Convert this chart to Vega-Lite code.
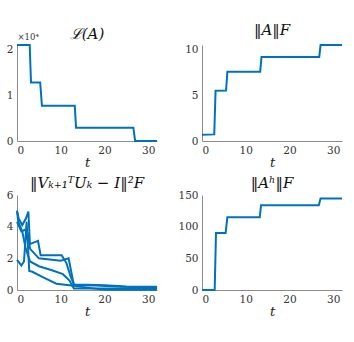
{
  "$schema": "https://vega.github.io/schema/vega-lite/v6.json",
  "background": "white",
  "padding": {"left": 6, "top": 23, "right": 10, "bottom": 5},
  "config": {
    "view": {"stroke": null},
    "font": "DejaVu Serif",
    "axis": {
      "domainColor": "#8c8c8c",
      "domainWidth": 1,
      "ticks": false,
      "grid": false,
      "labelFont": "DejaVu Serif",
      "labelFontSize": 10.5,
      "labelColor": "#333333",
      "labelPadding": 4,
      "format": "d",
      "titleFont": "DejaVu Serif",
      "titleFontSize": 13,
      "titleFontStyle": "italic",
      "titleFontWeight": "normal",
      "titleColor": "#222222",
      "titlePadding": 1
    },
    "title": {"font": "DejaVu Serif", "fontSize": 15, "fontWeight": "normal", "fontStyle": "italic", "color": "#111111", "offset": 3},
    "line": {"color": "#0072BD", "strokeWidth": 2}
  },
  "columns": 2,
  "bounds": "flush",
  "spacing": {"column": 45, "row": 54},
  "concat": [
    {
      "title": {"text": "ℒ(A)", "offset": -10},
      "width": 140, "height": 96,
      "data": {"values": [
        {"t": 0, "v": 2.1}, {"t": 2.9, "v": 2.1}, {"t": 3.2, "v": 1.28}, {"t": 5.3, "v": 1.28},
        {"t": 5.7, "v": 0.77}, {"t": 13.2, "v": 0.77}, {"t": 13.5, "v": 0.29}, {"t": 26.6, "v": 0.29},
        {"t": 27.0, "v": 0}, {"t": 32, "v": 0}
      ]},
      "mark": {"type": "line"},
      "encoding": {
        "x": {"field": "t", "type": "quantitative", "scale": {"domain": [0, 32], "nice": false}, "axis": {"values": [0, 10, 20, 30], "title": "t"}},
        "y": {"field": "v", "type": "quantitative", "scale": {"domain": [0, 2.1], "nice": false}, "axis": {"values": [0, 1, 2], "title": "×10⁴", "titleAngle": 0, "titleFontStyle": "normal", "titleFontSize": 8.5, "titleX": 0, "titleY": -4, "titleAlign": "left", "titleBaseline": "bottom", "titleColor": "#333333"}}
      }
    },
    {
      "title": "‖A‖F",
      "width": 140, "height": 96,
      "data": {"values": [
        {"t": 0, "v": 0.68}, {"t": 2.8, "v": 0.72}, {"t": 3.1, "v": 5.47}, {"t": 5.5, "v": 5.5},
        {"t": 5.8, "v": 7.55}, {"t": 13.3, "v": 7.55}, {"t": 13.6, "v": 9.15}, {"t": 26.8, "v": 9.15},
        {"t": 27.1, "v": 10.45}, {"t": 32, "v": 10.45}
      ]},
      "mark": {"type": "line"},
      "encoding": {
        "x": {"field": "t", "type": "quantitative", "scale": {"domain": [0, 32], "nice": false}, "axis": {"values": [0, 10, 20, 30], "title": "t"}},
        "y": {"field": "v", "type": "quantitative", "scale": {"domain": [0, 10.45], "nice": false}, "axis": {"values": [0, 5, 10], "title": null}}
      }
    },
    {
      "title": {"text": "‖Vₖ₊₁ᵀUₖ − I‖²F", "offset": -1},
      "width": 140, "height": 95,
      "data": {"values": [
        {"s": 1, "t": 0, "v": 5.0}, {"s": 1, "t": 0.4, "v": 4.5}, {"s": 1, "t": 1.2, "v": 4.1}, {"s": 1, "t": 2.0, "v": 4.5},
        {"s": 1, "t": 2.6, "v": 4.95}, {"s": 1, "t": 2.95, "v": 2.9}, {"s": 1, "t": 4.8, "v": 3.1}, {"s": 1, "t": 5.4, "v": 2.2},
        {"s": 1, "t": 10.2, "v": 2.2}, {"s": 1, "t": 11.3, "v": 1.7}, {"s": 1, "t": 12.2, "v": 0.9}, {"s": 1, "t": 13, "v": 0.35},
        {"s": 1, "t": 16, "v": 0.33}, {"s": 1, "t": 20, "v": 0.3}, {"s": 1, "t": 25, "v": 0.22}, {"s": 1, "t": 32, "v": 0.2},
        {"s": 2, "t": 0, "v": 4.3}, {"s": 2, "t": 1, "v": 3.7}, {"s": 2, "t": 1.8, "v": 3.8}, {"s": 2, "t": 2.4, "v": 3.6},
        {"s": 2, "t": 3, "v": 2.6}, {"s": 2, "t": 5, "v": 2.0}, {"s": 2, "t": 10, "v": 1.85}, {"s": 2, "t": 11.8, "v": 2.0},
        {"s": 2, "t": 13, "v": 0.3}, {"s": 2, "t": 18, "v": 0.28}, {"s": 2, "t": 24, "v": 0.2}, {"s": 2, "t": 32, "v": 0.15},
        {"s": 3, "t": 0, "v": 1.9}, {"s": 3, "t": 1, "v": 1.55}, {"s": 3, "t": 1.6, "v": 1.8}, {"s": 3, "t": 2.2, "v": 4.3},
        {"s": 3, "t": 2.5, "v": 2.8}, {"s": 3, "t": 2.8, "v": 1.2}, {"s": 3, "t": 3.5, "v": 1.15}, {"s": 3, "t": 6, "v": 0.8},
        {"s": 3, "t": 9, "v": 0.4}, {"s": 3, "t": 12, "v": 0.3}, {"s": 3, "t": 16, "v": 0.15}, {"s": 3, "t": 20, "v": 0.02},
        {"s": 3, "t": 32, "v": 0.02},
        {"s": 4, "t": 0, "v": 5.0}, {"s": 4, "t": 0.3, "v": 4.3}, {"s": 4, "t": 1.2, "v": 3.7}, {"s": 4, "t": 2.0, "v": 2.6},
        {"s": 4, "t": 3, "v": 1.8}, {"s": 4, "t": 5, "v": 1.5}, {"s": 4, "t": 8, "v": 1.25}, {"s": 4, "t": 10.5, "v": 1.0},
        {"s": 4, "t": 12, "v": 0.6}, {"s": 4, "t": 13, "v": 0.1}, {"s": 4, "t": 20, "v": 0.1}, {"s": 4, "t": 32, "v": 0.08}
      ]},
      "mark": {"type": "line"},
      "encoding": {
        "detail": {"field": "s", "type": "nominal"},
        "x": {"field": "t", "type": "quantitative", "scale": {"domain": [0, 32], "nice": false}, "axis": {"values": [0, 10, 20, 30], "title": "t"}},
        "y": {"field": "v", "type": "quantitative", "scale": {"domain": [0, 6], "nice": false}, "axis": {"values": [0, 2, 4, 6], "title": null}}
      }
    },
    {
      "title": {"text": "‖Aʰ‖F", "offset": -1},
      "width": 140, "height": 95,
      "data": {"values": [
        {"t": 0, "v": 0}, {"t": 2.9, "v": 0}, {"t": 3.2, "v": 90}, {"t": 5.4, "v": 90},
        {"t": 5.8, "v": 115}, {"t": 13.2, "v": 115}, {"t": 13.5, "v": 134}, {"t": 26.7, "v": 134},
        {"t": 27.1, "v": 144.5}, {"t": 32, "v": 144.5}
      ]},
      "mark": {"type": "line"},
      "encoding": {
        "x": {"field": "t", "type": "quantitative", "scale": {"domain": [0, 32], "nice": false}, "axis": {"values": [0, 10, 20, 30], "title": "t"}},
        "y": {"field": "v", "type": "quantitative", "scale": {"domain": [0, 150], "nice": false}, "axis": {"values": [0, 50, 100, 150], "title": null}}
      }
    }
  ]
}
